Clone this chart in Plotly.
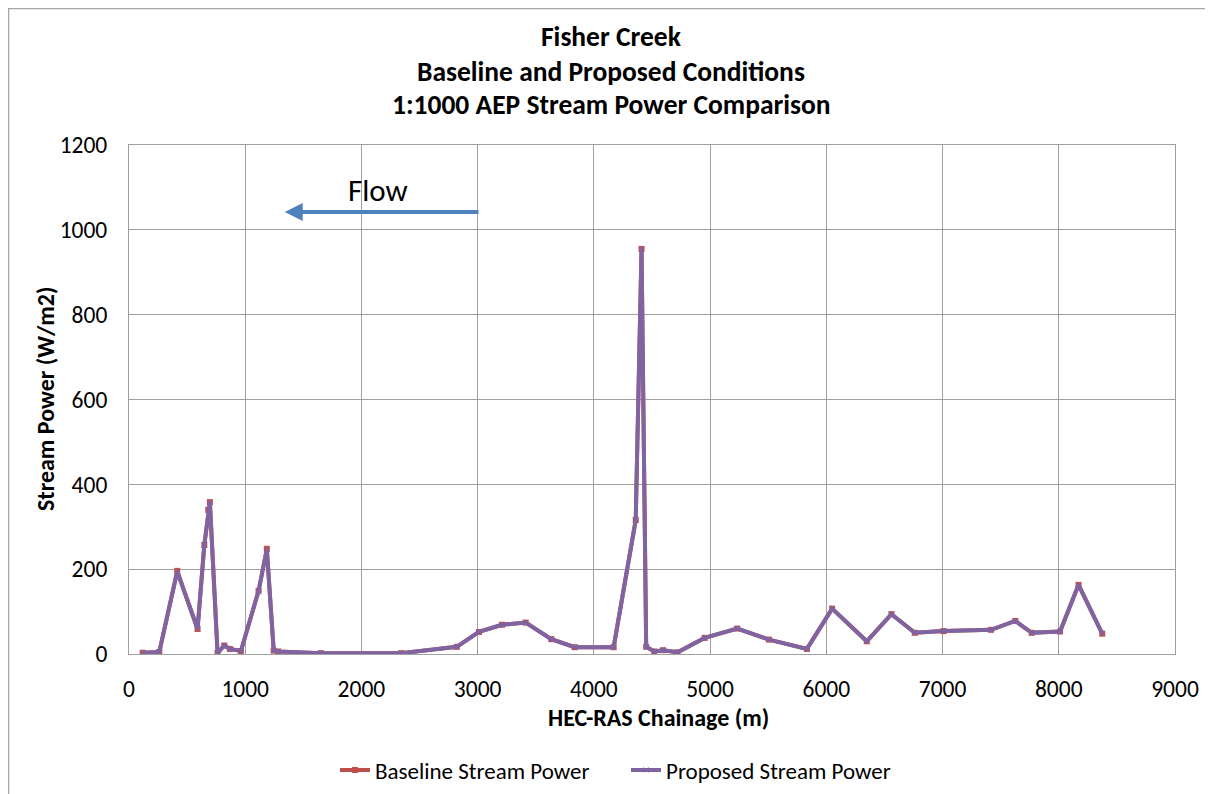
import plotly.graph_objects as go

chainage = [118, 261, 415, 590, 648, 682, 696, 762, 820, 868, 963, 1115, 1186, 1245, 1284, 1650,
            2343, 2820, 3011, 3209, 3413, 3634, 3835, 4170, 4360, 4410, 4450, 4520, 4595, 4720,
            4953, 5233, 5506, 5833, 6050, 6348, 6560, 6761, 7009, 7417, 7626, 7767, 8011, 8170, 8374]
baseline = [3, 5, 196, 59, 257, 340, 358, 2, 20, 12, 7, 149, 248, 8, 6, 2,
            2, 17, 52, 69, 74, 35, 16, 16, 316, 955, 17, 6, 9, 4,
            38, 60, 34, 12, 107, 30, 94, 50, 54, 57, 78, 50, 53, 163, 48]
proposed = [3, 5, 194, 59, 257, 340, 358, 2, 20, 12, 7, 149, 246, 8, 6, 2,
            2, 17, 52, 69, 74, 35, 16, 16, 316, 955, 17, 6, 9, 4,
            38, 60, 34, 12, 107, 30, 94, 50, 54, 57, 78, 50, 53, 163, 48]

title_lines = ["Fisher Creek", "Baseline and Proposed Conditions", "1:1000 AEP Stream Power Comparison"]
x_title = "HEC-RAS Chainage (m)"
y_title = "Stream Power (W/m2)"
FONT = "Carlito, Lato, sans-serif"

# page is offset by the 8px body margin
OFF = 8
W, H = 1213 - OFF, 794 - OFF
PL, PR, PT, PB = 129, 1175, 145, 654  # plot area in page pixels
M_L, M_T = PL - OFF, PT - OFF
M_R, M_B = 1213 - PR, 794 - PB
pw, ph = PR - PL, PB - PT


def px(xp):
    return (xp - PL) / pw


def py(yp):
    return (PB - yp) / ph


fig = go.Figure()
fig.add_trace(go.Scatter(x=chainage, y=baseline, mode="lines+markers", name="Baseline Stream Power",
                         line=dict(color="#C0504D", width=4),
                         marker=dict(symbol="square", size=6, color="#C0504D")))
fig.add_trace(go.Scatter(x=chainage, y=proposed, mode="lines+markers", name="Proposed Stream Power",
                         line=dict(color="#8064A2", width=4),
                         marker=dict(symbol="x-thin", size=5, color="#8064A2",
                                     line=dict(color="#8064A2", width=1))))

annotations = []
for t, yp in zip(title_lines, [37, 71, 104]):
    annotations.append(dict(text=f"<b>{t}</b>", x=px(611), y=py(yp), xref="paper", yref="paper",
                            xanchor="center", yanchor="middle", showarrow=False,
                            font=dict(size=27.5, family=FONT, color="#000")))
annotations.append(dict(text=f"<b>{x_title}</b>", x=px(658), y=py(717), xref="paper", yref="paper",
                        xanchor="center", yanchor="middle", showarrow=False,
                        font=dict(size=24, family=FONT, color="#000")))
annotations.append(dict(text=f"<b>{y_title}</b>", x=px(45), y=py(399), xref="paper", yref="paper",
                        xanchor="center", yanchor="middle", showarrow=False, textangle=-90,
                        font=dict(size=24, family=FONT, color="#000")))
annotations.append(dict(x=1340, y=1042, ax=3020, ay=1042, xref="x", yref="y", axref="x", ayref="y",
                        showarrow=True, arrowhead=2, arrowsize=0.9, arrowwidth=4, arrowcolor="#4F81BD",
                        text=""))
annotations.append(dict(x=2140, y=1094, xref="x", yref="y", text="Flow", showarrow=False,
                        font=dict(size=31, family=FONT, color="#000")))

fig.update_layout(
    width=W, height=H,
    margin=dict(l=M_L, r=M_R, t=M_T, b=M_B, autoexpand=False),
    paper_bgcolor="white", plot_bgcolor="white",
    font=dict(family=FONT, size=23.5, color="#000"),
    showlegend=True,
    legend=dict(orientation="h", x=px(626), xanchor="center", y=py(770), yanchor="middle",
                font=dict(size=23), itemwidth=30, tracegroupgap=0, bgcolor="rgba(0,0,0,0)",
                entrywidth=246, entrywidthmode="pixels"),
    annotations=annotations,
    shapes=[dict(type="rect", xref="paper", yref="paper",
                 x0=px(OFF + 0.5), x1=px(1240),
                 y0=py(820), y1=py(OFF + 0.5),
                 line=dict(color="#A6A6A6", width=1.5), layer="below")],
)
fig.update_xaxes(range=[0, 9000], dtick=1000, showgrid=True, gridcolor="#A0A0A0", gridwidth=1,
                 showline=True, linecolor="#A0A0A0", mirror=True, zeroline=False, ticks="",
                 tickfont=dict(size=23.5), ticklabelstandoff=14)
fig.update_yaxes(range=[0, 1200], dtick=200, showgrid=True, gridcolor="#A0A0A0", gridwidth=1,
                 showline=True, linecolor="#A0A0A0", mirror=True, zeroline=False, ticks="",
                 tickfont=dict(size=23.5), ticklabelstandoff=16)

fig.write_html("out.html")
